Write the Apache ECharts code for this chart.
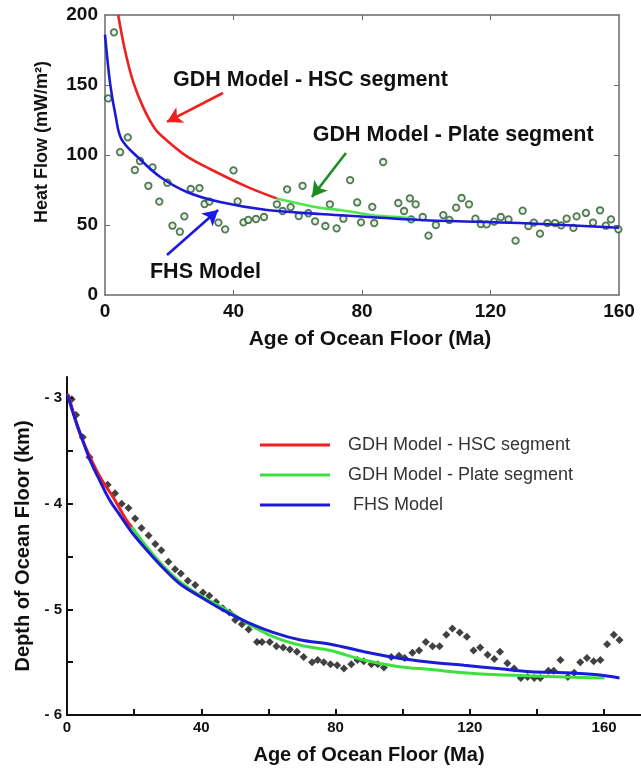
<!DOCTYPE html>
<html>
<head>
<meta charset="utf-8">
<script src="https://cdn.jsdelivr.net/npm/echarts@6/dist/echarts.min.js"></script>
<style>
html,body{margin:0;padding:0;background:#fff;}
#chart{width:641px;height:769px;}
</style>
</head>
<body>
<div id="chart"></div>
<script>
// ---------- Top panel: heat flow ----------
const heatAge = [1.0,2.8,4.7,7.1,9.3,10.9,13.5,14.8,16.9,19.4,21.0,23.3,24.7,26.7,29.4,31.0,32.5,35.3,37.4,40.0,41.3,43.1,44.6,47.0,49.5,53.5,55.3,56.7,57.8,60.3,61.5,63.3,65.4,68.6,70.0,72.1,74.2,76.3,78.5,79.7,83.2,83.8,86.6,91.3,93.1,94.9,95.3,96.7,98.9,100.7,103,105.3,107.2,109.3,111,113.3,115.3,117,118.8,121.1,123.2,125.6,127.8,130,131.8,133.5,135.4,137.7,140.1,142,143.7,145.8,146.8,149.7,151.9,154.1,155.9,157.5,159.8];
const heatFlow = [140.5,187.6,102,112.6,89.3,95.7,78,91.2,66.7,80.2,49.5,45.2,56.2,75.7,76.4,65,66.7,51.7,46.9,89,66.9,51.9,53.6,54.3,55.7,64.8,60,75.5,62.8,56.4,78,58.4,52.6,49.3,64.8,47.6,54.5,82.1,66.1,51.9,62.9,51.4,95,65.7,60,69,54,64.8,55.7,42.4,50,57.1,53.6,62.4,69.3,64.8,54.5,50.7,50.5,52.4,55.7,54,38.8,60.2,49.3,51.7,43.8,51.4,51.4,49.8,54.5,47.9,56.2,58.6,51.7,60.5,49.5,54,46.9];

const hfHscAge = [4.1,6.2,8.8,11.9,15.5,19.2,25.5,32.7,44.1,53.4];
const hfHscVal = [200,175,152,134,119,110.5,99,90,77.4,69];
const hfPlateAge = [53.4,66.9,73.2,83.4,95,97];
const hfPlateVal = [69,62.3,60.7,57,55,54];
const hfFhsAge = [0,1.6,3.3,5.2,10.9,17.1,25.5,35.8,50.4,67,98,129,160];
const hfFhsVal = [186,151,128,111,97,84.5,73.6,66.4,60.7,57.9,53.6,51.4,48];

const heatTicksX = [0,40,80,120,160];
const heatTicksY = [0,50,100,150,200];

// annotations (data coordinates)
const noteHsc = {text:'GDH Model - HSC segment', at:[21.2,153.6], arrow:[[36.7,144.3],[19.3,123.6]]};
const notePlate = {text:'GDH Model - Plate segment', at:[64.7,114.5], arrow:[[75,101.4],[64.4,70]]};
const noteFhs = {text:'FHS Model', at:[14,16.4], arrow:[[19.3,28.6],[35.2,60.7]]};

// ---------- Bottom panel: depth ----------
const depthAge = [1.4,2.7,4.7,6.7,12.1,14.3,16.3,18.3,20.3,22.2,24.3,26.3,28.1,30.2,32.2,33.9,36.0,38.2,40.5,42.4,44.4,46.4,48.4,50.1,52.1,54.1,56.6,58.1,60.4,62.4,64.4,66.4,68.5,70.5,73.0,74.7,76.5,78.5,80.5,82.5,84.7,86.5,88.4,90.7,92.6,94.4,96.6,98.9,100.6,102.9,104.9,106.9,108.9,111,113,114.8,117,119.1,121.1,123.1,125.3,127.3,129.0,131.2,133.2,135.2,137.2,139.2,141,143.4,145,147,149.2,151.1,152.9,154.9,156.9,158.9,160.9,162.9,164.6];
const depthVal = [-3.01,-3.16,-3.37,-3.56,-3.82,-3.90,-4.00,-4.04,-4.14,-4.23,-4.30,-4.38,-4.44,-4.55,-4.62,-4.66,-4.73,-4.77,-4.84,-4.87,-4.93,-4.99,-5.03,-5.10,-5.14,-5.19,-5.31,-5.31,-5.31,-5.35,-5.36,-5.38,-5.40,-5.45,-5.50,-5.48,-5.50,-5.52,-5.53,-5.56,-5.52,-5.48,-5.49,-5.52,-5.52,-5.55,-5.45,-5.44,-5.46,-5.41,-5.39,-5.31,-5.35,-5.35,-5.24,-5.18,-5.22,-5.26,-5.39,-5.36,-5.43,-5.47,-5.40,-5.51,-5.56,-5.65,-5.64,-5.65,-5.65,-5.58,-5.58,-5.48,-5.64,-5.60,-5.50,-5.46,-5.49,-5.48,-5.33,-5.24,-5.29];

const dHscAge = [0.2,1.4,3.4,5.9,9.9,13.8,17.8,19.3];
const dHscVal = [-2.96,-3.08,-3.30,-3.49,-3.75,-3.94,-4.16,-4.22];
const dPlateAge = [19.3,23.8,28.7,33.7,39.7,46.7,53.6,61.6,69.6,78.5,88.4,98.4,108.4,118.3,128.3,138.2,148.2,160.1];
const dPlateVal = [-4.22,-4.41,-4.59,-4.74,-4.87,-4.99,-5.13,-5.26,-5.34,-5.39,-5.48,-5.54,-5.57,-5.60,-5.62,-5.63,-5.64,-5.65];
const dFhsAge = [0.2,1.4,3.9,6.9,9.9,12.8,15.8,19.3,23.8,28.7,33.7,39.7,46.7,53.6,61.6,69.6,78.5,88.4,98.4,108.4,118.3,128.3,138.2,148.2,158.1,164.6];
const dFhsVal = [-2.97,-3.10,-3.33,-3.59,-3.79,-3.97,-4.11,-4.27,-4.44,-4.61,-4.76,-4.88,-5.01,-5.12,-5.22,-5.29,-5.33,-5.40,-5.46,-5.50,-5.53,-5.56,-5.59,-5.60,-5.62,-5.65];

const depthTicksX = [0,20,40,60,80,100,120,140,160];
const depthLabelsX = [0,40,80,120,160];
const depthTicksY = [-6,-5.5,-5,-4.5,-4,-3.5,-3];
const depthLabelsY = [-6,-5,-4,-3];

const legendNames = ['GDH Model - HSC segment','GDH Model - Plate segment',' FHS Model'];

// ---------- build ----------
const FONT = '"Liberation Sans", Arial, sans-serif';
const zip = (a,b) => a.map((v,i)=>[v,b[i]]);
const SMOOTH = 0.35;

function note(n, color){
  return {
    markLine: {
      silent:true, symbol:['none','arrow'], symbolSize:[13,15],
      lineStyle:{color:color,width:2.6,type:'solid'},
      label:{show:false},
      data:[[{coord:n.arrow[0]},{coord:n.arrow[1]}]]
    },
    markPoint: {
      silent:true, symbol:'circle', symbolSize:0,
      label:{show:true, position:'right', distance:0, formatter:n.text,
        fontFamily:FONT, fontWeight:'bold', fontSize:21.5, color:'#111'},
      data:[{coord:n.at}]
    }
  };
}

const frameColor = '#6a6a6a';
const topLabel = {fontFamily:FONT, fontWeight:'bold', fontSize:19, color:'#111'};
const botLabel = {fontFamily:FONT, fontWeight:'bold', fontSize:15, color:'#111'};
const frameLine = {show:true,onZero:false,lineStyle:{color:frameColor,width:1.5}};

const option = {
  animation:false,
  backgroundColor:'#fff',
  grid:[
    {left:105, top:15, width:514, height:280},
    {left:67, top:377, width:574, height:338}
  ],
  legend:{
    data:legendNames, orient:'vertical', left:255, top:430,
    icon:'rect', itemWidth:70, itemHeight:3, itemGap:10,
    textStyle:{fontFamily:FONT, fontSize:18, color:'#333', lineHeight:20, padding:[0,0,0,13]},
    selectedMode:false
  },
  xAxis:[
    {gridIndex:0, type:'value', min:0, max:160, interval:40, position:'bottom',
     axisLine:frameLine,
     axisTick:{show:true,inside:true,length:5,lineStyle:{color:frameColor},customValues:[40,80,120]},
     axisLabel:Object.assign({margin:7, customValues:heatTicksX}, topLabel),
     splitLine:{show:false},
     name:'Age of Ocean Floor (Ma)', nameLocation:'middle', nameGap:34,
     nameTextStyle:{fontFamily:FONT, fontWeight:'bold', fontSize:21, color:'#111', padding:[0,0,0,16]}},
    {gridIndex:0, type:'value', min:0, max:160, interval:40, position:'top',
     axisLine:frameLine,
     axisTick:{show:true,inside:true,length:5,lineStyle:{color:frameColor},customValues:[40,80,120]},
     axisLabel:{show:false}, splitLine:{show:false}},
    {gridIndex:1, type:'value', min:0, max:171,
     axisLine:{show:true,onZero:false,lineStyle:{color:'#111',width:2}},
     axisTick:{show:true,inside:true,length:6,lineStyle:{color:'#111',width:2},customValues:depthTicksX},
     axisLabel:Object.assign({margin:5, customValues:depthLabelsX}, botLabel),
     splitLine:{show:false},
     name:'Age of Ocean Floor (Ma)', nameLocation:'middle', nameGap:30,
     nameTextStyle:{fontFamily:FONT, fontWeight:'bold', fontSize:20, color:'#111', padding:[0,0,0,30]}}
  ],
  yAxis:[
    {gridIndex:0, type:'value', min:0, max:200, interval:50, position:'left',
     axisLine:frameLine,
     axisTick:{show:true,inside:true,length:5,lineStyle:{color:frameColor},customValues:[50,100,150]},
     axisLabel:Object.assign({margin:7, customValues:heatTicksY}, topLabel),
     splitLine:{show:false},
     name:'Heat Flow (mW/m²)', nameLocation:'middle', nameGap:54,
     nameTextStyle:{fontFamily:FONT, fontWeight:'bold', fontSize:18, color:'#111', padding:[0,0,0,26]}},
    {gridIndex:0, type:'value', min:0, max:200, interval:50, position:'right',
     axisLine:frameLine,
     axisTick:{show:true,inside:true,length:5,lineStyle:{color:frameColor},customValues:[50,100,150]},
     axisLabel:{show:false}, splitLine:{show:false}},
    {gridIndex:1, type:'value', min:-6, max:-2.8,
     axisLine:{show:true,onZero:false,lineStyle:{color:'#111',width:2}},
     axisTick:{show:true,inside:true,length:6,lineStyle:{color:'#111',width:2},customValues:depthTicksY},
     axisLabel:Object.assign({margin:5, customValues:depthLabelsY, formatter:v=>'- '+Math.abs(v)}, botLabel),
     splitLine:{show:false},
     name:'Depth of Ocean Floor (km)', nameLocation:'middle', nameGap:33,
     nameTextStyle:{fontFamily:FONT, fontWeight:'bold', fontSize:20, color:'#111'}}
  ],
  series:[
    // top panel
    {name:'hf-plate', type:'line', xAxisIndex:0, yAxisIndex:0, data:zip(hfPlateAge,hfPlateVal),
     smooth:SMOOTH, showSymbol:false, lineStyle:{color:'#4be84b',width:2.6}, itemStyle:{color:'#4be84b'},
     ...note(notePlate,'#1f8c1f')},
    {name:'hf-hsc', type:'line', xAxisIndex:0, yAxisIndex:0, data:zip(hfHscAge,hfHscVal),
     smooth:SMOOTH, showSymbol:false, lineStyle:{color:'#ee2020',width:2.6}, itemStyle:{color:'#ee2020'},
     ...note(noteHsc,'#ee2020')},
    {name:'hf-fhs', type:'line', xAxisIndex:0, yAxisIndex:0, data:zip(hfFhsAge,hfFhsVal),
     smooth:SMOOTH, showSymbol:false, lineStyle:{color:'#1a1ad8',width:2.6}, itemStyle:{color:'#1a1ad8'},
     ...note(noteFhs,'#1a1ae0')},
    {name:'hf-data', type:'scatter', xAxisIndex:0, yAxisIndex:0, data:zip(heatAge,heatFlow),
     symbol:'circle', symbolSize:6.5, itemStyle:{color:'#dfeedd', borderColor:'#2c5a2c', borderWidth:1.8}},
    // bottom panel
    {name:legendNames[1], type:'line', xAxisIndex:2, yAxisIndex:2, data:zip(dPlateAge,dPlateVal),
     smooth:SMOOTH, showSymbol:false, lineStyle:{color:'#3de03d',width:3}, itemStyle:{color:'#3de03d'}},
    {name:legendNames[0], type:'line', xAxisIndex:2, yAxisIndex:2, data:zip(dHscAge,dHscVal),
     smooth:SMOOTH, showSymbol:false, lineStyle:{color:'#ee2024',width:3}, itemStyle:{color:'#ee2024'}},
    {name:legendNames[2], type:'line', xAxisIndex:2, yAxisIndex:2, data:zip(dFhsAge,dFhsVal),
     smooth:SMOOTH, showSymbol:false, lineStyle:{color:'#1c1cd6',width:3}, itemStyle:{color:'#1c1cd6'}},
    {name:'depth-data', type:'scatter', xAxisIndex:2, yAxisIndex:2, data:zip(depthAge,depthVal),
     symbol:'diamond', symbolSize:8, itemStyle:{color:'#111'}}
  ]
};

const chart = echarts.init(document.getElementById('chart'), null, {renderer:'canvas'});
chart.setOption(option);
</script>
</body>
</html>
